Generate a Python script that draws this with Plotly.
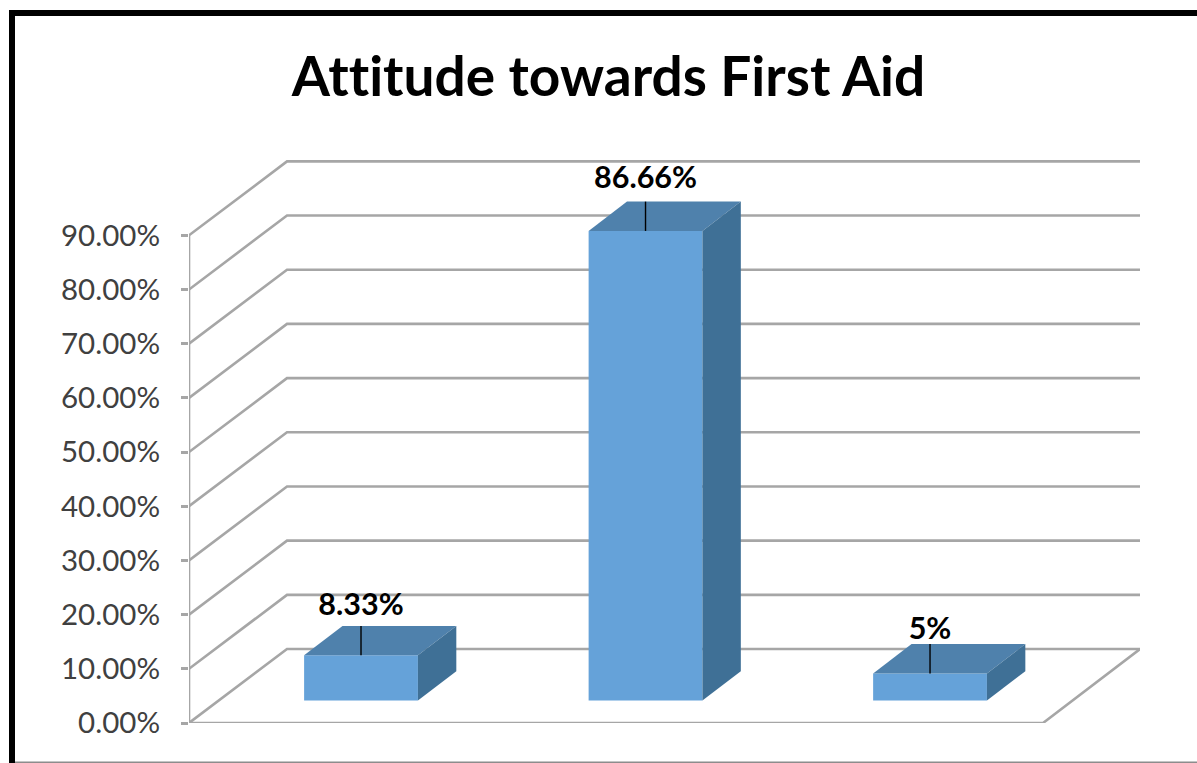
import plotly.graph_objects as go

W, H = 1197, 763
# data
categories = ["Category 1", "Category 2", "Category 3"]
positions = [0, 1, 2]
values = [8.33, 86.66, 5.0]
value_labels = ["8.33%", "86.66%", "5%"]
tick_values = [0, 10, 20, 30, 40, 50, 60, 70, 80, 90]
tick_labels = ["0.00%", "10.00%", "20.00%", "30.00%", "40.00%", "50.00%", "60.00%", "70.00%", "80.00%", "90.00%"]
title_text = "Attitude towards First Aid"

# plot frame in pixels
L, R, T, B = 189, 1140, 160, 723
X_MIN, X_MAX = -0.6046, 2.738
Y_MIN, Y_MAX = 0, 103.9
FRONT_RIGHT = (1043 - 361) / 284.5  # front floor right edge in x units
WALL_DX, WALL_DY = 0.3445, 13.65
BAR_W, BAR_DX, BAR_DY, LIFT = 0.4, 0.135, 5.41, 4.15
GRID = "#A6A6A6"
FONT = "Lato"
LABEL_GAPS = [0.6, 1.1, -0.4]

fig = go.Figure()

# walls and floor
gx, gy = [], []
for v in tick_values:
    gx += [X_MIN, X_MIN + WALL_DX, X_MAX, None]
    gy += [v, v + WALL_DY, v + WALL_DY, None]
gx += [X_MIN, X_MIN, None, X_MIN, FRONT_RIGHT, X_MAX]
gy += [0, tick_values[-1], None, 0, 0, WALL_DY]
fig.add_trace(go.Scatter(x=gx, y=gy, mode="lines", line=dict(color=GRID, width=2.6),
                         hoverinfo="skip", cliponaxis=False, showlegend=False))

# bars: front, top, side faces built from the values
def face(xs, ys, color):
    fig.add_trace(go.Scatter(x=xs, y=ys, mode="lines", fill="toself", fillcolor=color,
                             line=dict(width=0, color=color), hoverinfo="skip",
                             cliponaxis=False, showlegend=False))

for p, v in zip(positions, values):
    x0, x1 = p - BAR_W / 2, p + BAR_W / 2
    y0, y1 = LIFT, LIFT + v
    face([x0, x1, x1, x0, x0], [y0, y0, y1, y1, y0], "#65A2D9")
    face([x0, x1, x1 + BAR_DX, x0 + BAR_DX, x0], [y1, y1, y1 + BAR_DY, y1 + BAR_DY, y1], "#4F81AC")
    face([x1, x1 + BAR_DX, x1 + BAR_DX, x1, x1], [y0, y0 + BAR_DY, y1 + BAR_DY, y1, y0], "#3F7096")
    fig.add_trace(go.Scatter(x=[p, p], y=[y1, y1 + BAR_DY], mode="lines",
                             line=dict(color="#000000", width=1.4), hoverinfo="skip",
                             cliponaxis=False, showlegend=False))

# value labels
fig.add_trace(go.Scatter(x=positions, y=[LIFT + v + BAR_DY + g for v, g in zip(values, LABEL_GAPS)],
                         mode="text", text=value_labels, textposition="top center",
                         textfont=dict(family=FONT, size=30.5, color="#000000", weight="bold"),
                         hoverinfo="skip", cliponaxis=False, showlegend=False))

def px(x):
    return (x - L) / (R - L)

def py(y):
    return (B - y) / (B - T)

shapes = [
    dict(type="rect", xref="paper", yref="paper", x0=px(9), x1=px(15), y0=py(763), y1=py(10),
         fillcolor="#000000", line=dict(width=0), layer="below"),
    dict(type="rect", xref="paper", yref="paper", x0=px(9), x1=px(1197), y0=py(16), y1=py(10),
         fillcolor="#000000", line=dict(width=0), layer="below"),
    dict(type="rect", xref="paper", yref="paper", x0=px(15), x1=px(1197), y0=py(763), y1=py(761.5),
         fillcolor="#8C8C8C", line=dict(width=0), layer="below"),
]

fig.update_layout(
    width=W, height=H, autosize=False,
    margin=dict(l=L, r=W - R, t=T, b=H - B, pad=0),
    paper_bgcolor="#FFFFFF", plot_bgcolor="rgba(0,0,0,0)",
    title=dict(text=title_text, x=608.5 / W, xanchor="center", y=1 - 77 / H, yanchor="middle",
               font=dict(family=FONT, size=55, color="#000000", weight="bold")),
    xaxis=dict(range=[X_MIN, X_MAX], visible=False, fixedrange=True),
    yaxis=dict(range=[Y_MIN, Y_MAX], tickmode="array", tickvals=tick_values, ticktext=tick_labels,
               showgrid=False, zeroline=False, showline=False, ticks="outside", ticklen=7, tickwidth=2.6,
               tickcolor=GRID, ticklabelstandoff=15,
               tickfont=dict(family=FONT, size=29.5, color="#404040"), fixedrange=True),
    shapes=shapes,
)
fig.write_html(
    "out.html",
    config=dict(displayModeBar=False),
    post_script=(
        "document.body.style.margin='0';"
        "var s=document.createElement('style');"
        "s.textContent='svg text{font-variant-ligatures:none !important;letter-spacing:0.01px;}';"
        "document.head.appendChild(s);"
    ),
)
